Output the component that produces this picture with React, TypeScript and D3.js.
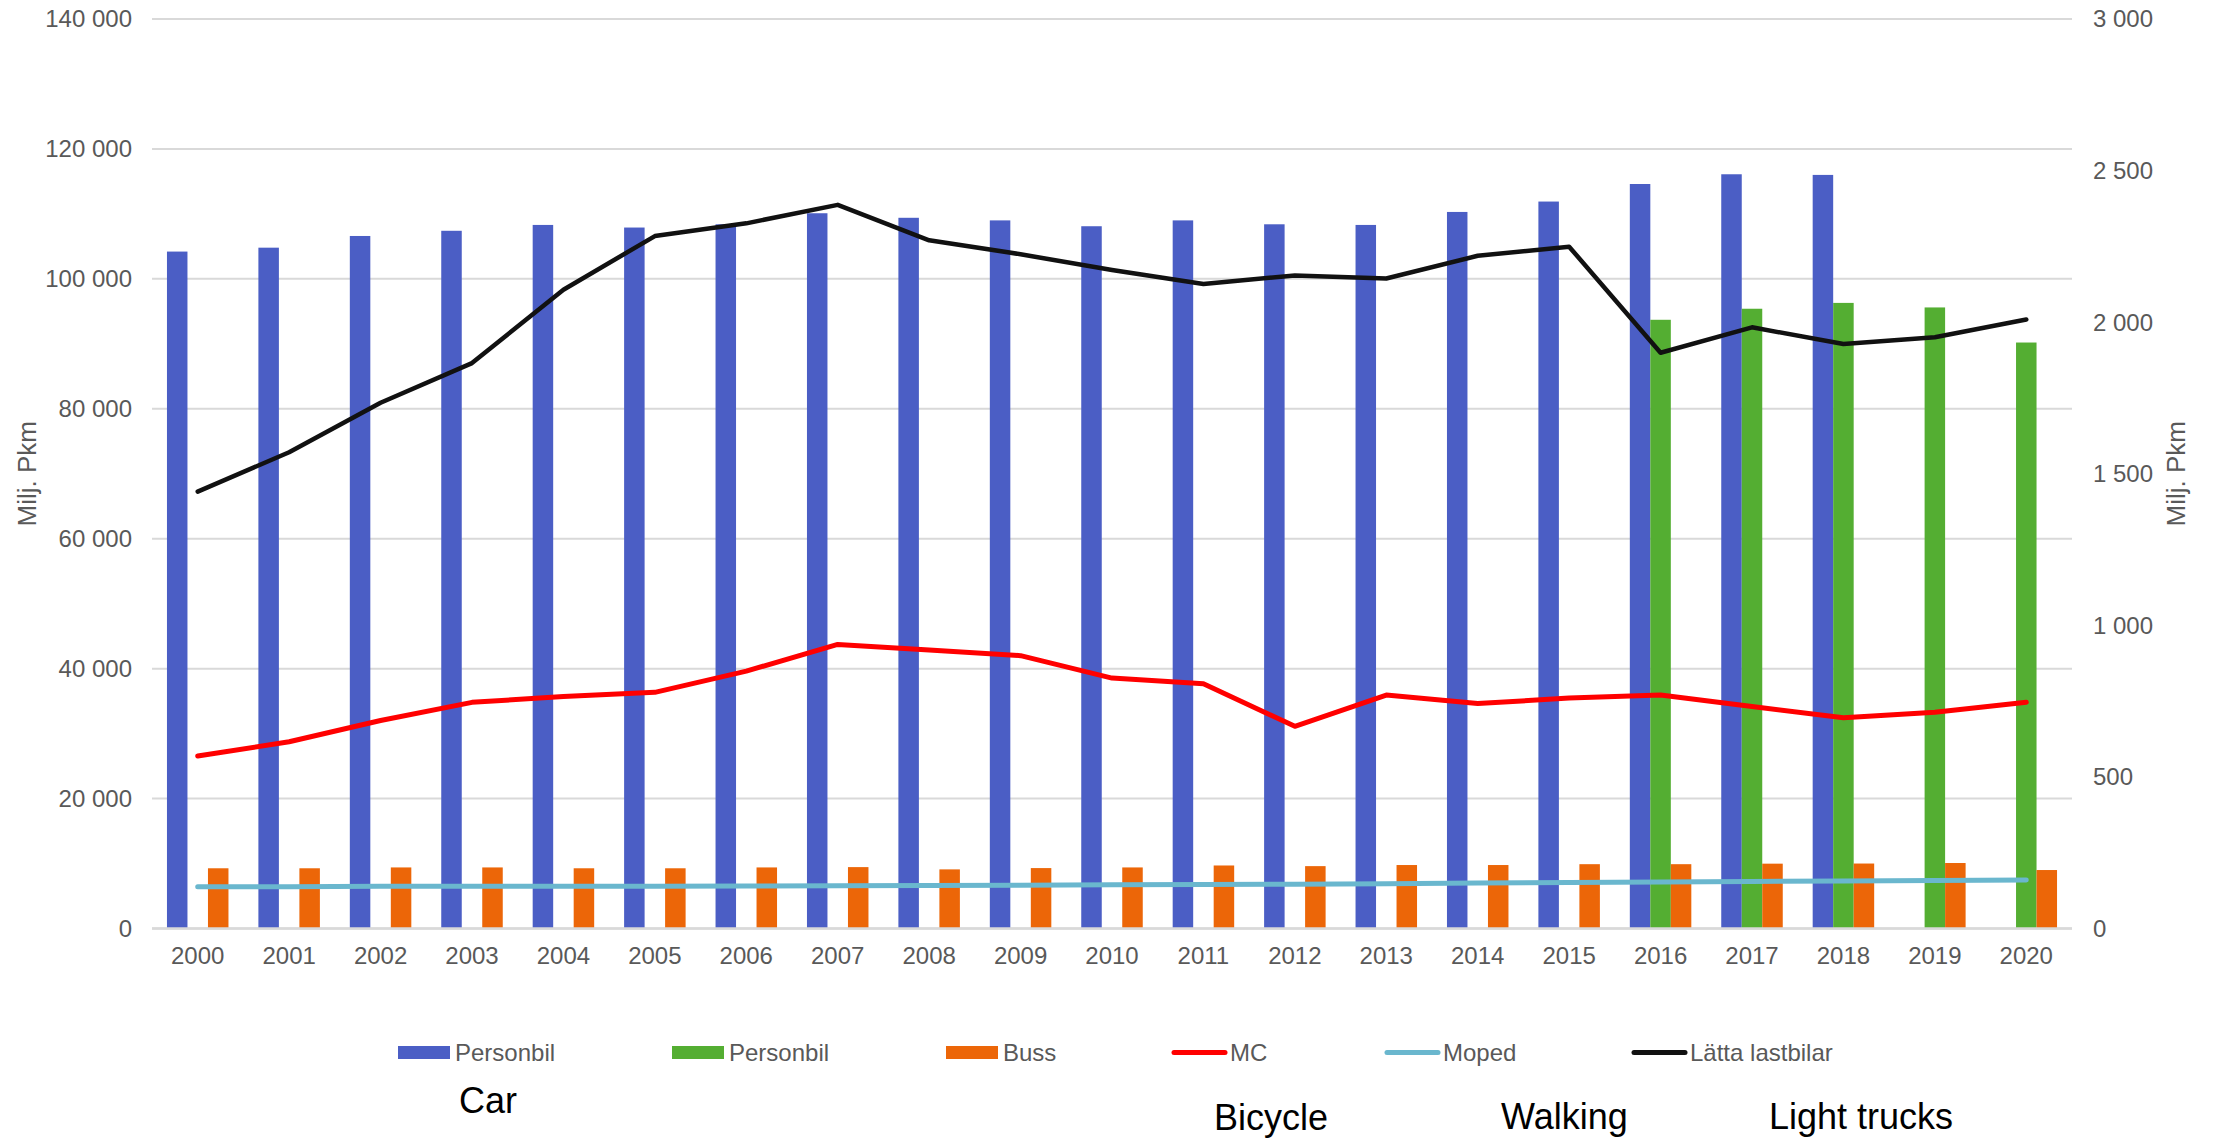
import React from "react";
import * as d3 from "d3";

// categories
const years = [
  "2000", "2001", "2002", "2003", "2004", "2005", "2006", "2007", "2008", "2009", "2010",
  "2011", "2012", "2013", "2014", "2015", "2016", "2017", "2018", "2019", "2020",
];

// bars, left axis (Milj. Pkm)
const personbilBlue = [
  104200, 104800, 106600, 107400, 108300, 107900, 108400, 110100, 109400, 109000, 108100,
  109000, 108400, 108300, 110300, 111900, 114600, 116100, 116000, null, null,
];
const personbilGreen = [
  null, null, null, null, null, null, null, null, null, null, null,
  null, null, null, null, null, 93700, 95400, 96300, 95600, 90200,
];
const buss = [
  9270, 9270, 9400, 9400, 9270, 9270, 9400, 9450, 9100, 9300, 9400,
  9700, 9600, 9770, 9770, 9900, 9900, 9980, 10000, 10080, 9000,
];

// lines, right axis
const mc = [
  569, 616, 686, 746, 765, 779, 849, 937, 919, 900, 826,
  807, 667, 770, 742, 760, 770, 732, 695, 713, 746,
];
const moped = [
  138, 138, 139, 139, 139, 139, 140, 141, 142, 143, 144,
  145, 146, 148, 150, 152, 153, 155, 157, 158, 160,
];
const lattaLastbilar = [
  1441, 1571, 1734, 1865, 2107, 2284, 2326, 2387, 2270, 2224, 2172,
  2126, 2154, 2144, 2219, 2249, 1899, 1983, 1928, 1950, 2009,
];

const leftTicks = [0, 20000, 40000, 60000, 80000, 100000, 120000, 140000];
const rightTicks = [0, 500, 1000, 1500, 2000, 2500, 3000];

const legendItems = [
  { label: "Personbil", color: "#4B5EC5", kind: "box", x: 398 },
  { label: "Personbil", color: "#54AE32", kind: "box", x: 672 },
  { label: "Buss", color: "#EC6608", kind: "box", x: 946 },
  { label: "MC", color: "#FF0000", kind: "line", x: 1172 },
  { label: "Moped", color: "#6AB7CE", kind: "line", x: 1385 },
  { label: "Lätta lastbilar", color: "#111111", kind: "line", x: 1632 },
];

const notes = [
  { text: "Car", x: 459, y: 1113 },
  { text: "Bicycle", x: 1214, y: 1130 },
  { text: "Walking", x: 1501, y: 1129 },
  { text: "Light trucks", x: 1769, y: 1129 },
];

const W = 2216;
const H = 1138;
const left = 152;
const right = 2072;
const top = 19;
const bottom = 928.5;
const font = "'Liberation Sans', Arial, sans-serif";

const fmt = d3.formatLocale({
  decimal: ",",
  thousands: " ",
  grouping: [3],
  currency: ["", ""],
}).format(",");

export default function App() {
  const x = d3.scaleBand().domain(years).range([left, right]).padding(0);
  const bw = x.bandwidth();
  const xs = d3.scaleBand().domain(["blue", "green", "buss"]).range([0, bw]).paddingInner(0).paddingOuter(0.73);
  const yL = d3.scaleLinear().domain([0, 140000]).range([bottom, top]);
  const yR = d3.scaleLinear().domain([0, 3000]).range([bottom, top]);

  const line = d3
    .line<number>()
    .x((_, i) => (x(years[i]) as number) + bw / 2)
    .y((d) => yR(d));

  const barSeries = [
    { key: "blue", values: personbilBlue, color: "#4B5EC5" },
    { key: "green", values: personbilGreen, color: "#54AE32" },
    { key: "buss", values: buss, color: "#EC6608" },
  ];
  const lineSeries = [
    { values: moped, color: "#6AB7CE", w: 5 },
    { values: mc, color: "#FF0000", w: 5 },
    { values: lattaLastbilar, color: "#111111", w: 4.5 },
  ];

  return (
    <svg
      width={W}
      height={H}
      style={{ position: "absolute", left: 0, top: 0, background: "#fff" }}
      fontFamily={font}
    >
      {/* gridlines */}
      {leftTicks.map((t) => (
        <line key={t} x1={left} x2={right} y1={yL(t)} y2={yL(t)} stroke="#D9D9D9" strokeWidth={2} />
      ))}
      {/* left ticks */}
      {leftTicks.map((t) => (
        <text key={"l" + t} x={132} y={yL(t)} dy="0.35em" textAnchor="end" fontSize={24} fill="#595959">
          {fmt(t)}
        </text>
      ))}
      {/* right ticks */}
      {rightTicks.map((t) => (
        <text key={"r" + t} x={2093} y={yR(t)} dy="0.35em" textAnchor="start" fontSize={24} fill="#595959">
          {fmt(t)}
        </text>
      ))}
      <text transform={`translate(27,${(top + bottom) / 2}) rotate(-90)`} textAnchor="middle" dy="0.35em" fontSize={26} fill="#595959">
        Milj. Pkm
      </text>
      <text transform={`translate(2176,${(top + bottom) / 2}) rotate(-90)`} textAnchor="middle" dy="0.35em" fontSize={26} fill="#595959">
        Milj. Pkm
      </text>

      {/* bars */}
      {barSeries.map((s) =>
        s.values.map((v, i) =>
          v == null ? null : (
            <rect
              key={s.key + i}
              x={(x(years[i]) as number) + (xs(s.key) as number)}
              y={yL(v)}
              width={xs.bandwidth()}
              height={bottom - yL(v)}
              fill={s.color}
            />
          )
        )
      )}
      {/* x axis */}
      <line x1={left} x2={right} y1={bottom} y2={bottom} stroke="#D9D9D9" strokeWidth={2.5} />
      {years.map((yr) => (
        <text key={yr} x={(x(yr) as number) + bw / 2} y={956} dy="0.35em" textAnchor="middle" fontSize={24} fill="#595959">
          {yr}
        </text>
      ))}

      {/* lines */}
      {lineSeries.map((s, i) => (
        <path
          key={i}
          d={line(s.values) as string}
          fill="none"
          stroke={s.color}
          strokeWidth={s.w}
          strokeLinecap="round"
          strokeLinejoin="round"
        />
      ))}

      {/* legend */}
      {legendItems.map((it, i) => (
        <g key={i} transform={`translate(${it.x},1052.5)`}>
          {it.kind === "box" ? (
            <rect x={0} y={-6.5} width={52} height={13} fill={it.color} />
          ) : (
            <line x1={2} x2={53} y1={0} y2={0} stroke={it.color} strokeWidth={5} strokeLinecap="round" />
          )}
          <text x={it.kind === "box" ? 57 : 58} y={0} dy="0.35em" fontSize={24} fill="#595959">
            {it.label}
          </text>
        </g>
      ))}

      {/* annotations */}
      {notes.map((n) => (
        <text key={n.text} x={n.x} y={n.y} fontSize={36} fill="#000">
          {n.text}
        </text>
      ))}
    </svg>
  );
}
